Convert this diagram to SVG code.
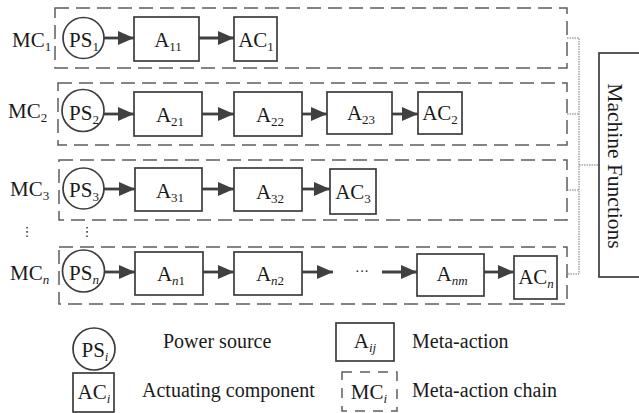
<svg xmlns="http://www.w3.org/2000/svg" width="639" height="413" viewBox="0 0 639 413">
<defs>
<style>
text{font-family:"Liberation Serif","Times New Roman",serif;fill:#1a1a1a}
.t{font-size:21px}
.lg{font-size:20px}
.s{font-size:13px}
.i{font-style:italic}
.box{fill:#fff;stroke:#3c3c3c;stroke-width:1.7}
.dash{fill:none;stroke:#5e5e5e;stroke-width:1.5;stroke-dasharray:14 7}
.arr{stroke:#404040;stroke-width:2.8;fill:none;marker-end:url(#ah)}
.dot{fill:none;stroke:#777;stroke-width:1;stroke-dasharray:1.5 1}
</style>
<marker id="ah" viewBox="0 0 16 14" refX="16" refY="7" markerWidth="16" markerHeight="14" markerUnits="userSpaceOnUse" orient="auto">
<path d="M0,0 L16,7 L0,14 z" fill="#404040"/>
</marker>
</defs>

<g id="chains">
<rect id="chain1" class="dash" x="55" y="8" width="512" height="60"/>
<rect id="chain2" class="dash" x="58" y="83" width="509" height="62"/>
<rect id="chain3" class="dash" x="59" y="160" width="508" height="60"/>
<rect id="chainn" class="dash" x="59" y="247" width="508" height="57"/>
</g>

<g id="labels">
<text class="t" x="12" y="47">MC<tspan class="s" dy="4">1</tspan></text>
<text class="t" x="8" y="118">MC<tspan class="s" dy="4">2</tspan></text>
<text class="t" x="10" y="196">MC<tspan class="s" dy="4">3</tspan></text>
<text class="t" x="10" y="280">MC<tspan class="s i" dy="4">n</tspan></text>
<text x="27" y="236" style="font-family:'DejaVu Sans',sans-serif;font-size:13px" text-anchor="middle">⋮</text>
<text x="87" y="236" style="font-family:'DejaVu Sans',sans-serif;font-size:13px" text-anchor="middle">⋮</text>
</g>

<g id="connectors">
<line class="arr" x1="104" y1="38" x2="134" y2="38"/>
<line class="arr" x1="199" y1="38" x2="234" y2="38"/>
<line class="arr" x1="104" y1="114" x2="134" y2="114"/>
<line class="arr" x1="202" y1="114" x2="234" y2="114"/>
<line class="arr" x1="302" y1="114" x2="327" y2="114"/>
<line class="arr" x1="392" y1="114" x2="418" y2="114"/>
<line class="arr" x1="104" y1="189" x2="135" y2="189"/>
<line class="arr" x1="202" y1="189" x2="234" y2="189"/>
<line class="arr" x1="302" y1="189" x2="330" y2="189"/>
<line class="arr" x1="104" y1="272" x2="135" y2="272"/>
<line class="arr" x1="203" y1="272" x2="234" y2="272"/>
<line class="arr" x1="302" y1="272" x2="333" y2="272"/>
<line class="arr" x1="382" y1="272" x2="417" y2="272"/>
<line class="arr" x1="484" y1="272" x2="514" y2="272"/>
<path class="dot" d="M567,38 H579 V274 H567 M567,114 H579 M567,190 H579 M579,165 H599"/>
</g>
<text class="t" x="362" y="276" text-anchor="middle" style="font-size:14px">···</text>

<g id="ps1"><circle class="box" cx="83.5" cy="38" r="20.5"/><text class="t" x="84" y="47" text-anchor="middle">PS<tspan class="s" dy="4">1</tspan></text></g>
<g id="a11"><rect class="box" x="134" y="17" width="65" height="44"/><text class="t" x="168" y="47" text-anchor="middle">A<tspan class="s" dy="4">11</tspan></text></g>
<g id="ac1"><rect class="box" x="234" y="17" width="43" height="44"/><text class="t" x="256" y="47" text-anchor="middle">AC<tspan class="s" dy="4">1</tspan></text></g>

<g id="ps2"><circle class="box" cx="83" cy="110.5" r="21"/><text class="t" x="84" y="120" text-anchor="middle">PS<tspan class="s" dy="4">2</tspan></text></g>
<g id="a21"><rect class="box" x="134" y="92" width="68" height="44"/><text class="t" x="170" y="122" text-anchor="middle">A<tspan class="s" dy="4">21</tspan></text></g>
<g id="a22"><rect class="box" x="234" y="92" width="68" height="44"/><text class="t" x="270" y="122" text-anchor="middle">A<tspan class="s" dy="4">22</tspan></text></g>
<g id="a23"><rect class="box" x="327" y="92" width="65" height="42"/><text class="t" x="361" y="120" text-anchor="middle">A<tspan class="s" dy="4">23</tspan></text></g>
<g id="ac2"><rect class="box" x="418" y="92" width="44" height="42"/><text class="t" x="440" y="120" text-anchor="middle">AC<tspan class="s" dy="4">2</tspan></text></g>

<g id="ps3"><circle class="box" cx="83.5" cy="188.5" r="20.5"/><text class="t" x="84" y="197" text-anchor="middle">PS<tspan class="s" dy="4">3</tspan></text></g>
<g id="a31"><rect class="box" x="135" y="168" width="67" height="43"/><text class="t" x="170" y="198" text-anchor="middle">A<tspan class="s" dy="4">31</tspan></text></g>
<g id="a32"><rect class="box" x="234" y="168" width="68" height="43"/><text class="t" x="270" y="199" text-anchor="middle">A<tspan class="s" dy="4">32</tspan></text></g>
<g id="ac3"><rect class="box" x="330" y="169" width="46" height="45"/><text class="t" x="353" y="199" text-anchor="middle">AC<tspan class="s" dy="4">3</tspan></text></g>

<g id="psn"><circle class="box" cx="83.5" cy="271" r="21"/><text class="t" x="84" y="280" text-anchor="middle">PS<tspan class="s i" dy="4">n</tspan></text></g>
<g id="an1"><rect class="box" x="135" y="252" width="68" height="43"/><text class="t" x="171" y="281" text-anchor="middle">A<tspan class="s" dy="4"><tspan class="i">n</tspan>1</tspan></text></g>
<g id="an2"><rect class="box" x="234" y="252" width="68" height="43"/><text class="t" x="270" y="281" text-anchor="middle">A<tspan class="s" dy="4"><tspan class="i">n</tspan>2</tspan></text></g>
<g id="anm"><rect class="box" x="417" y="254" width="67" height="42"/><text class="t" x="452" y="281" text-anchor="middle">A<tspan class="s i" dy="4">nm</tspan></text></g>
<g id="acn"><rect class="box" x="514" y="256" width="43" height="43"/><text class="t" x="536" y="284" text-anchor="middle">AC<tspan class="s i" dy="4">n</tspan></text></g>

<g id="machine-functions"><rect class="box" x="599" y="53" width="50" height="224"/><text class="t" transform="translate(608,166) rotate(90)" text-anchor="middle" style="font-size:21.5px">Machine Functions</text></g>

<g id="legend">
<g id="lg-ps"><circle class="box" cx="94" cy="349" r="21"/><text class="t" x="95" y="357" text-anchor="middle">PS<tspan class="s i" dy="4">i</tspan></text></g>
<text class="lg" x="163" y="348">Power source</text>
<g id="lg-a"><rect class="box" x="336" y="323" width="58" height="38"/><text class="t" x="365" y="348" text-anchor="middle">A<tspan class="s i" dy="4">ij</tspan></text></g>
<text class="lg" x="412" y="348">Meta-action</text>
<g id="lg-ac"><rect class="box" x="73" y="373" width="41" height="39"/><text class="t" x="94" y="399" text-anchor="middle">AC<tspan class="s i" dy="4">i</tspan></text></g>
<text class="lg" x="142" y="397">Actuating component</text>
<g id="lg-mc"><rect class="dash" x="342" y="372" width="55" height="39" style="stroke-dasharray:10 8"/><text class="t" x="369" y="399" text-anchor="middle">MC<tspan class="s i" dy="4">i</tspan></text></g>
<text class="lg" x="412" y="397">Meta-action chain</text>
</g>
</svg>
